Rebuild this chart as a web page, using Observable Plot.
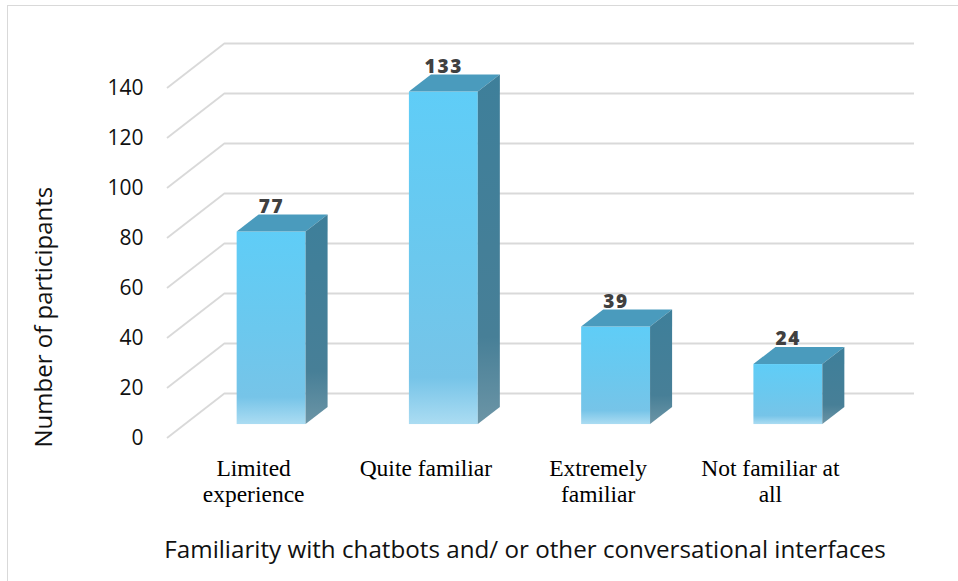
<!DOCTYPE html>
<html>
<head>
<meta charset="utf-8">
<script src="https://cdn.jsdelivr.net/npm/d3@7"></script>
<script src="https://cdn.jsdelivr.net/npm/@observablehq/plot@0.6"></script>
<style>
  html, body { margin: 0; padding: 0; background: #fff; overflow: hidden; }
  #chart { position: relative; width: 958px; height: 581px; }
  #chart svg { position: absolute; left: 0; top: 0; }
  #border {
    position: absolute; left: 7px; top: 5px; width: 1200px; height: 1200px;
    border-left: 1.5px solid #d9d9d9; border-top: 1.5px solid #d9d9d9;
    pointer-events: none;
  }
  /* value labels above the bars are spaced out a little */
  #chart g[font-weight="800"] { letter-spacing: 1.8px; }
</style>
</head>
<body>
<div id="chart"><div id="border"></div></div>
<script>
// Survey answers: how familiar participants are with chatbots
const categories = ["Limited\nexperience", "Quite familiar", "Extremely\nfamiliar", "Not familiar at\nall"];
const counts = [77, 133, 39, 24];
const yTicks = [0, 20, 40, 60, 80, 100, 120, 140];
const yLabel = "Number of participants";
const xLabel = "Familiarity with chatbots and/ or other conversational interfaces";

const rows = categories.map((category, i) => ({category, count: counts[i]}));

// Pseudo-3D geometry: the floor recedes from the front edge to the back wall.
const DEPTH = {dx: -58, dy: 45};          // back wall -> front edge of the floor
const at = (t) => ({dx: DEPTH.dx * t, dy: DEPTH.dy * t});
const FRONT = at(0.69);                   // front face of the bars
const BACK = at(0.31);                    // rear face of the bars

const GRID = "#d9d9d9";
const TOP = "#4a9bbd";

const poly = (pts) => "M" + pts.map((p) => p.join(",")).join("L") + "Z";

function gradients() {
  const defs = d3.create("svg:defs");
  const add = (id, stops) => {
    const g = defs.append("linearGradient").attr("id", id)
      .attr("x1", 0).attr("y1", 0).attr("x2", 0).attr("y2", 1);
    for (const [o, c] of stops) g.append("stop").attr("offset", o).attr("stop-color", c);
  };
  add("bar-front", [[0, "#5fcdf7"], [0.5, "#6bc8ee"], [0.86, "#76c4e8"], [1, "#abdcf2"]]);
  add("bar-side", [[0, "#3e7f9a"], [0.75, "#477f97"], [1, "#6c95a6"]]);
  return defs.node();
}

// Diagonal lines on the left wall, one per gridline
function sideWall(index, scales, values, dimensions) {
  const {y} = scales;
  const x0 = dimensions.marginLeft;
  const g = d3.create("svg:g").attr("stroke", GRID).attr("stroke-width", 1.8);
  for (const t of yTicks) {
    g.append("line")
      .attr("x1", x0).attr("y1", y(t))
      .attr("x2", x0 + DEPTH.dx).attr("y2", y(t) + DEPTH.dy);
  }
  return g.node();
}

// Top and right-hand faces of each bar
function barSolids(index, scales) {
  const {x, y} = scales;
  const bw = typeof x.bandwidth === "function" ? x.bandwidth() : x.bandwidth;
  const g = d3.create("svg:g");
  rows.forEach(({category, count}) => {
    const xl = x(category), xr = xl + bw;
    const yt = y(count), yb = y(0);
    g.append("path").attr("fill", TOP).attr("d", poly([
      [xl + FRONT.dx, yt + FRONT.dy], [xr + FRONT.dx, yt + FRONT.dy],
      [xr + BACK.dx, yt + BACK.dy], [xl + BACK.dx, yt + BACK.dy]
    ]));
    g.append("path").attr("fill", "url(#bar-side)").attr("d", poly([
      [xr + FRONT.dx, yt + FRONT.dy], [xr + BACK.dx, yt + BACK.dy],
      [xr + BACK.dx, yb + BACK.dy], [xr + FRONT.dx, yb + FRONT.dy]
    ]));
  });
  return g.node();
}

const chart = Plot.plot({
  width: 958,
  height: 581,
  marginLeft: 225,
  marginRight: 44,
  marginTop: 43,
  marginBottom: 188,
  style: {fontFamily: "'Open Sans', sans-serif", background: "transparent", overflow: "visible"},
  x: {domain: categories, paddingInner: 0.6, paddingOuter: 0.3, round: false, axis: null},
  y: {domain: [0, 140], axis: null},
  marks: [
    gradients,
    Plot.ruleY(yTicks, {stroke: GRID, strokeWidth: 1.8}),
    sideWall,
    Plot.barY(rows, {x: "category", y: "count", fill: "url(#bar-front)", dx: FRONT.dx, dy: FRONT.dy}),
    barSolids,
    // y tick labels sit on the front edge of the floor
    Plot.text(yTicks, {
      y: (d) => d, text: (d) => String(d), frameAnchor: "left", textAnchor: "end",
      dx: -82, dy: DEPTH.dy, fontSize: 21, fill: "#111"
    }),
    // category labels
    Plot.text(rows, {
      x: "category", text: "category", frameAnchor: "bottom", lineAnchor: "top",
      dx: DEPTH.dx, dy: 64, fontFamily: "'Liberation Serif', 'Times New Roman', serif",
      fontSize: 23.5, lineHeight: 1.1, fill: "#000"
    }),
    // value labels
    Plot.text(rows, {
      x: "category", y: "count", text: (d) => String(d.count), lineAnchor: "bottom",
      dx: FRONT.dx, dy: 11.5, fontSize: 19, fontWeight: 800, fill: "#404040"
    }),
    Plot.text([yLabel], {
      text: (d) => d, frameAnchor: "left", rotate: -90, dx: -181, dy: 229,
      fontSize: 24, fill: "#111"
    }),
    Plot.text([xLabel], {
      text: (d) => d, frameAnchor: "bottom", dx: -45, dy: 164,
      fontSize: 24.2, fill: "#111"
    })
  ]
});

document.getElementById("chart").prepend(chart);
</script>
</body>
</html>
